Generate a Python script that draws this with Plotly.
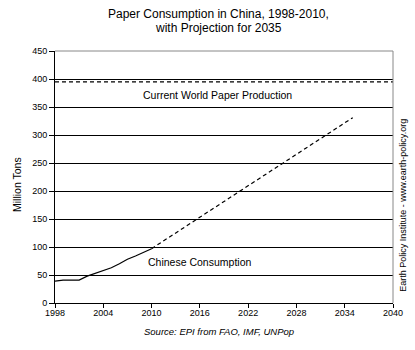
import plotly.graph_objects as go

# Data
years = [1998, 1999, 2000, 2001, 2002, 2003, 2004, 2005, 2006, 2007, 2008, 2009, 2010]
china_consumption = [39, 41, 41, 41, 48, 53, 58, 63, 70, 78, 84, 90, 97]
projection_years = [2010, 2035]
projection_values = [97, 331]
world_years = [1998, 2040]
world_production = [395, 395]
x_ticks = [1998, 2004, 2010, 2016, 2022, 2028, 2034, 2040]
y_ticks = [0, 50, 100, 150, 200, 250, 300, 350, 400, 450]
title_lines = ["Paper Consumption in China, 1998-2010,", "with Projection for 2035"]

FONT = "Liberation Sans, Arial, sans-serif"

fig = go.Figure()
fig.add_trace(go.Scatter(x=world_years, y=world_production, mode="lines",
                         line=dict(color="black", width=1.2, dash="4px,3px"),
                         hoverinfo="skip", showlegend=False))
fig.add_trace(go.Scatter(x=years, y=china_consumption, mode="lines",
                         line=dict(color="black", width=1.2),
                         showlegend=False))
fig.add_trace(go.Scatter(x=projection_years, y=projection_values, mode="lines",
                         line=dict(color="black", width=1.2, dash="4px,3px"),
                         showlegend=False))

annotations = [
    dict(text=title_lines[0], x=0.485, y=1, yshift=37, xref="paper", yref="paper",
         xanchor="center", yanchor="middle", showarrow=False,
         font=dict(family=FONT, size=12, color="black")),
    dict(text=title_lines[1], x=0.485, y=1, yshift=23, xref="paper", yref="paper",
         xanchor="center", yanchor="middle", showarrow=False,
         font=dict(family=FONT, size=12, color="black")),
    dict(text="Current World Paper Production", x=2018.2, y=371, xref="x", yref="y",
         showarrow=False, font=dict(family=FONT, size=10.5, color="black")),
    dict(text="Chinese Consumption", x=2015.9, y=74, xref="x", yref="y",
         showarrow=False, font=dict(family=FONT, size=10.5, color="black")),
    dict(text="Million Tons", x=0, xshift=-38, y=0.5, yshift=-8, xref="paper", yref="paper",
         xanchor="center", yanchor="middle",
         textangle=-90, showarrow=False, font=dict(family=FONT, size=10.5, color="black")),
    dict(text="Earth Policy Institute - www.earth-policy.org", x=1, xshift=10, y=0.386,
         xref="paper", yref="paper", xanchor="center", yanchor="middle",
         textangle=-90, showarrow=False,
         font=dict(family=FONT, size=9, color="black")),
    dict(text="<i>Source: EPI from FAO, IMF, UNPop</i>", x=0.485, y=0, yshift=-28,
         xref="paper", yref="paper", xanchor="center", yanchor="middle", showarrow=False,
         font=dict(family=FONT, size=9.5, color="black")),
]

fig.update_layout(
    width=415, height=350,
    margin=dict(l=55, r=20, t=51, b=47),
    paper_bgcolor="white", plot_bgcolor="white",
    font=dict(family=FONT, color="black", size=9),
    xaxis=dict(range=[1998, 2040], tickvals=x_ticks, ticktext=[str(t) for t in x_ticks],
               showgrid=False, zeroline=False, showline=True, linecolor="black", linewidth=1,
               ticks="outside", ticklen=4, tickcolor="black", ticklabelstandoff=-3,
               tickfont=dict(family=FONT, size=9, color="black")),
    yaxis=dict(range=[0, 450], tickvals=y_ticks, showgrid=True, gridcolor="black", gridwidth=1,
               zeroline=False, showline=True, linecolor="black", linewidth=1,
               ticks="outside", ticklen=5, tickcolor="black",
               tickfont=dict(family=FONT, size=9, color="black")),
    shapes=[
        dict(type="line", xref="paper", yref="paper", x0=0, x1=1, y0=1, y1=1,
             line=dict(color="#888888", width=1), layer="above"),
        dict(type="line", xref="paper", yref="paper", x0=1, x1=1, y0=0, y1=1,
             line=dict(color="#888888", width=1), layer="above"),
    ],
    annotations=annotations,
)

fig.write_html("out.html")
